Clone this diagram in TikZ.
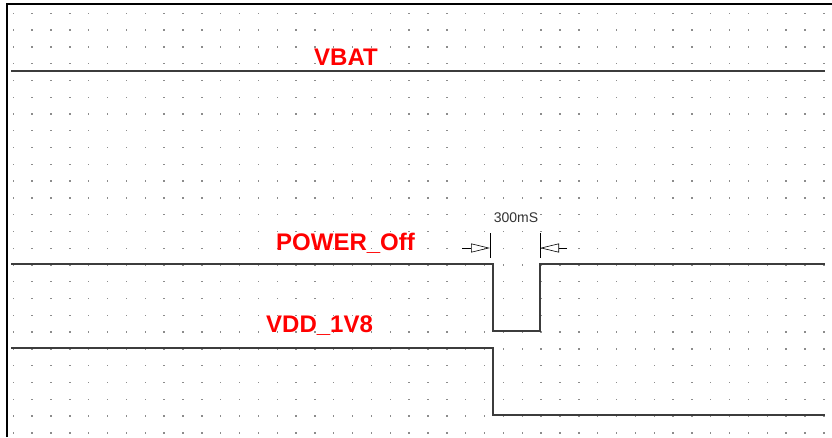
\documentclass[tikz,border=0pt]{standalone}
\usepackage{fontspec}
\setmainfont{Liberation Sans}
\usetikzlibrary{arrows.meta}
\definecolor{sigred}{RGB}{255,0,0}
\definecolor{wavegray}{RGB}{60,60,60}
\definecolor{dotgray}{RGB}{140,140,140}

\begin{document}
\begin{tikzpicture}[x=1pt, y=-1pt,
  sigl/.style={font=\fontsize{24}{24}\selectfont\bfseries, text=sigred,
               inner sep=0pt, anchor=base west},
  wave/.style={draw=wavegray, line width=1.3pt},
  dimarr/.style={-{Triangle[open, length=19pt, width=9pt]}, line width=0.6pt},
  dimtick/.style={line width=0.9pt},
]
\useasboundingbox (0,0) rectangle (832,437);

% Grid of dots
\foreach \i in {0,...,43}
  \foreach \j in {0,...,25}
    \fill[dotgray] (13.3+18.85*\i-0.7, 13.3+16.78*\j-0.7) rectangle ++(1.4,1.4);

% Frame
\draw[line width=1.8pt] (7,437) -- (7,4) -- (832,4);

% Signal names
\node[sigl] (vbat)   at (314,65)  {VBAT};
\node[sigl] (pwroff) at (276,250) {POWER\_Off};
\node[sigl] (vdd)    at (266,332) {VDD\_1V8};

% Waveforms
\draw[wave] (11,71) -- (825,71);
\coordinate (pfall) at (493,264);
\coordinate (prise) at (540,264);
\draw[wave] (11,264) -- (pfall) -- (493,331) -- (540,331) -- (prise) -- (825,264);
\draw[wave] (11,348) -- (493,348) -- (493,415) -- (825,415);

% Pulse width
\coordinate (tl) at (490,248);
\coordinate (tr) at (540,248);
\draw[dimtick] (490,233) -- (490,258);
\draw[dimtick] (540,233) -- (540,258);
\draw[dimarr] (462,248) -- (tl);
\draw[dimarr] (567,248) -- (tr);
\node[font=\fontsize{14}{14}\selectfont, text=black!80, inner sep=0pt, anchor=base]
  (pw) at (516,222) {300mS};
\end{tikzpicture}
\end{document}
